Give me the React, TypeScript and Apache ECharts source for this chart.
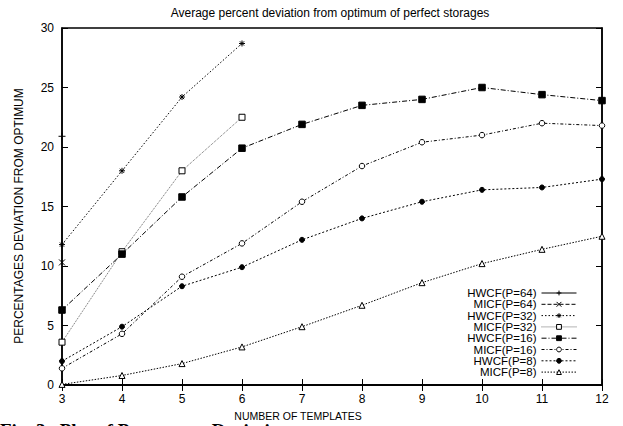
import React, { useEffect, useRef } from "react";
import * as echarts from "echarts";

const templates = [3, 4, 5, 6, 7, 8, 9, 10, 11, 12];

const hwcf64 = [20.9];
const micf64 = [10.3];
const hwcf32 = [11.8, 18.0, 24.2, 28.7];
const micf32 = [3.6, 11.2, 18.0, 22.5];
const hwcf16 = [6.3, 11.0, 15.8, 19.9, 21.9, 23.5, 24.0, 25.0, 24.4, 23.9];
const micf16 = [1.4, 4.3, 9.1, 11.9, 15.4, 18.4, 20.4, 21.0, 22.0, 21.8];
const hwcf8 = [2.0, 4.9, 8.3, 9.9, 12.2, 14.0, 15.4, 16.4, 16.6, 17.3];
const micf8 = [0.05, 0.8, 1.8, 3.2, 4.9, 6.7, 8.6, 10.2, 11.4, 12.5];

const seriesNames = [
  "HWCF(P=64)",
  "MICF(P=64)",
  "HWCF(P=32)",
  "MICF(P=32)",
  "HWCF(P=16)",
  "MICF(P=16)",
  "HWCF(P=8)",
  "MICF(P=8)",
];
const seriesValues = [hwcf64, micf64, hwcf32, micf32, hwcf16, micf16, hwcf8, micf8];

const titleText = "Average percent deviation from optimum of perfect storages";
const xName = "NUMBER OF TEMPLATES";
const yName = "PERCENTAGES DEVIATION FROM OPTIMUM";
const captionText = "Fig. 3   Plot of Percentage Deviation";

const PLUS = "path://M0,5L10,5M5,0L5,10";
const CROSS = "path://M1,1L9,9M9,1L1,9";
const STAR = "path://M0,5L10,5M5,0L5,10M1.5,1.5L8.5,8.5M8.5,1.5L1.5,8.5";

type Sty = {
  symbol: string;
  size: number;
  fill: string;
  dash: any;
  lineColor: string;
};

const styles: Sty[] = [
  { symbol: PLUS, size: 7, fill: "#000", dash: "solid", lineColor: "#000" },
  { symbol: CROSS, size: 6, fill: "#000", dash: [4, 2], lineColor: "#000" },
  { symbol: STAR, size: 6, fill: "#000", dash: [1.5, 2], lineColor: "#000" },
  { symbol: "rect", size: 6, fill: "#fff", dash: [1, 1], lineColor: "#666" },
  { symbol: "rect", size: 6.5, fill: "#000", dash: [5, 2, 1, 2], lineColor: "#000" },
  { symbol: "circle", size: 5.5, fill: "#fff", dash: [3, 2, 1, 2], lineColor: "#000" },
  { symbol: "circle", size: 5, fill: "#000", dash: [2, 2], lineColor: "#000" },
  { symbol: "triangle", size: 6, fill: "#fff", dash: [1.5, 1.5], lineColor: "#000" },
];

const FONT = "Liberation Sans, Arial, Helvetica, sans-serif";

export default function App() {
  const ref = useRef<HTMLDivElement>(null);

  useEffect(() => {
    if (!ref.current) return;
    const chart = echarts.init(ref.current, undefined, { renderer: "svg" });

    const series = seriesNames.map((name, i) => {
      const st = styles[i];
      const vals = seriesValues[i];
      return {
        name,
        type: "line",
        xAxisIndex: 0,
        yAxisIndex: 0,
        data: vals.map((v, j) => [templates[j], v]),
        symbol: st.symbol,
        symbolSize: st.size,
        showAllSymbol: true,
        clip: true,
        lineStyle: { color: st.lineColor, width: 1, type: st.dash },
        itemStyle: { color: st.fill, borderColor: "#000", borderWidth: 1 },
        emphasis: { disabled: true },
        z: 3,
      };
    });

    const tickStyle = { lineStyle: { color: "#000", width: 1 } };

    chart.setOption({
      animation: false,
      textStyle: { fontFamily: FONT },
      grid: {
        left: 62,
        right: 21,
        top: 28,
        bottom: 41,
        show: true,
        borderColor: "#000",
        borderWidth: 1.5,
        backgroundColor: "transparent",
      },
      title: {
        text: titleText,
        left: 325,
        textAlign: "center",
        top: 2,
        textStyle: { fontFamily: FONT, fontSize: 12, fontWeight: "normal", color: "#000" },
      },
      legend: {
        orient: "vertical",
        right: 46,
        top: 287,
        padding: 0,
        align: "right",
        itemWidth: 35,
        itemHeight: 6,
        itemGap: -0.7,
        data: seriesNames,
        lineStyle: { width: 1 },
        itemStyle: { borderWidth: 1 },
        textStyle: { fontFamily: FONT, fontSize: 11.5, lineHeight: 11.66, color: "#000" },
        selectedMode: false,
      },
      xAxis: [
        {
          type: "value",
          min: 3,
          max: 12,
          interval: 1,
          position: "bottom",
          axisLine: { show: true, lineStyle: { color: "#000", width: 1.5 } },
          axisTick: { show: true, inside: true, length: 6, ...tickStyle },
          axisLabel: { color: "#000", fontSize: 12, fontFamily: FONT, margin: 8 },
          splitLine: { show: false },
        },
        {
          type: "value",
          min: 3,
          max: 12,
          interval: 1,
          position: "top",
          axisLine: { show: true, lineStyle: { color: "#000", width: 1.5 } },
          axisTick: { show: true, inside: true, length: 6, ...tickStyle },
          axisLabel: { show: false },
          splitLine: { show: false },
        },
      ],
      yAxis: [
        {
          type: "value",
          min: 0,
          max: 30,
          interval: 5,
          position: "left",
          axisLine: { show: true, lineStyle: { color: "#000", width: 1.5 } },
          axisTick: { show: true, inside: true, length: 6, ...tickStyle },
          axisLabel: { color: "#000", fontSize: 12, fontFamily: FONT, margin: 8 },
          splitLine: { show: false },
        },
        {
          type: "value",
          min: 0,
          max: 30,
          interval: 5,
          position: "right",
          axisLine: { show: true, lineStyle: { color: "#000", width: 1.5 } },
          axisTick: { show: true, inside: true, length: 6, ...tickStyle },
          axisLabel: { show: false },
          splitLine: { show: false },
        },
      ],
      graphic: [
        {
          type: "text",
          x: 298,
          y: 410,
          style: {
            text: xName,
            fontFamily: FONT,
            fontSize: 10.5,
            fill: "#000",
            textAlign: "center",
          },
        },
        {
          type: "text",
          x: 13,
          y: 216,
          rotation: Math.PI / 2,
          style: {
            text: yName,
            fontFamily: FONT,
            fontSize: 12,
            fill: "#000",
            textAlign: "center",
          },
        },
        {
          type: "text",
          x: 0,
          y: 421,
          style: {
            text: captionText,
            fontFamily: "Liberation Serif, Times New Roman, serif",
            fontSize: 19,
            fontWeight: "bold",
            fill: "#000",
          },
        },
      ],
      series,
    });

    return () => chart.dispose();
  }, []);

  return (
    <div
      ref={ref}
      style={{ position: "fixed", left: 0, top: 0, width: 623, height: 426, background: "#fff" }}
    />
  );
}
